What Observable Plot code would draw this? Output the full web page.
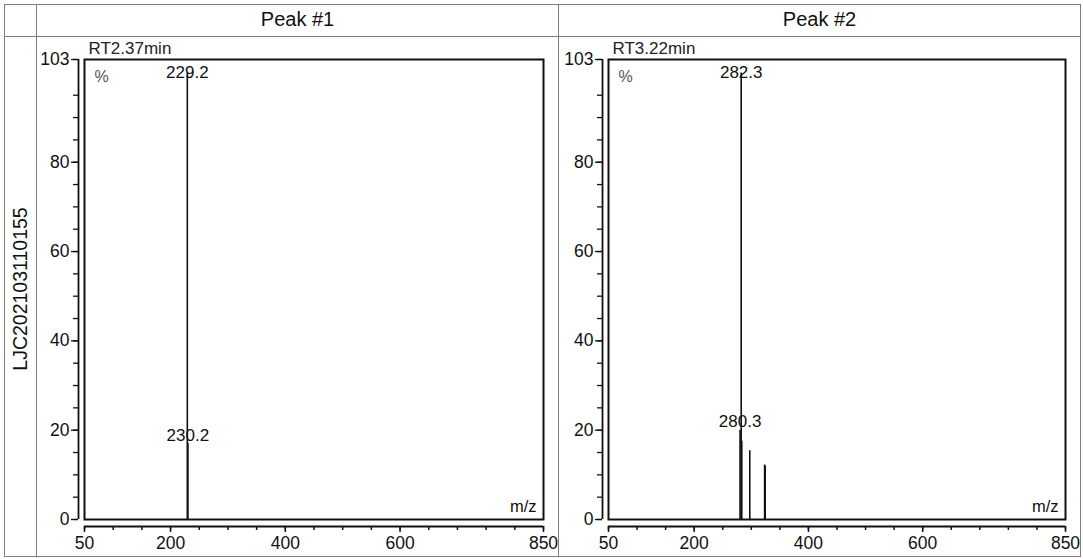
<!DOCTYPE html>
<html>
<head>
<meta charset="utf-8">
<script src="https://cdn.jsdelivr.net/npm/d3@7"></script>
<script src="https://cdn.jsdelivr.net/npm/@observablehq/plot@0.6"></script>
<style>
  body { margin: 0; background: #fff; font-family: "Liberation Sans", Arial, sans-serif; }
  #wrap { position: relative; width: 1083px; height: 559px; overflow: hidden; }
  .ln { position: absolute; background: #7d7d7d; }
  .hdr { position: absolute; top: 5px; height: 31px; line-height: 29px; text-align: center; font-size: 20px; color: #111; }
  .panel { position: absolute; top: 36px; }
  #rowlab { position: absolute; left: 20px; top: 289px; transform: translate(-50%, -50%) rotate(-90deg); font-size: 19.5px; color: #111; white-space: nowrap; }
</style>
</head>
<body>
<div id="wrap"></div>
<script>
// ---- data ----
const panelTitles = ["Peak #1", "Peak #2"];
const retentionTimes = ["RT2.37min", "RT3.22min"];
const sampleId = "LJC202103110155";

const peak1Mz = [229.2, 230.2];
const peak1Intensity = [100, 17];
const peak1Labeled = [229.2, 230.2];

const peak2Mz = [280.3, 282.3, 283.3, 297.3, 323.3, 324.3];
const peak2Intensity = [20, 100, 17.5, 15.4, 12.2, 11.9];
const peak2Labeled = [282.3, 280.3];

const xDomain = [50, 850];
const yDomain = [0, 103];
const xTickLabels = [50, 200, 400, 600, 850];
const xMinorTicks = d3.range(50, 851, 50);
const yTickLabels = [0, 20, 40, 60, 80, 103];
const yMinorTicks = d3.range(0, 96, 5).concat([103]);

// ---- layout ----
const wrap = document.getElementById("wrap");
function line(l, t, w, h) {
  const d = document.createElement("div");
  d.className = "ln";
  Object.assign(d.style, {left: l + "px", top: t + "px", width: w + "px", height: h + "px"});
  wrap.appendChild(d);
}
line(4, 4, 1077, 1);    // top
line(4, 556, 1077, 1);  // bottom
line(4, 4, 1, 553);     // left
line(1080, 4, 1, 553);  // right
line(4, 36, 1077, 1);   // header bottom
line(36, 4, 1, 553);    // label column
line(558, 4, 1, 553);   // between panels

const rl = document.createElement("div");
rl.id = "rowlab";
rl.textContent = sampleId;
wrap.appendChild(rl);

const colLeft = [37, 559];
const colWidth = 521;
const marginLefts = [47, 49];

function spectrum(mzs, ints, labeled, rt, ml) {
  const peaks = mzs.map((mz, k) => ({mz, i: ints[k]}));
  const lab = peaks.filter(p => labeled.includes(p.mz));
  const top = lab.filter(p => p.i >= 99);
  const rest = lab.filter(p => p.i < 99);
  const font = {fontSize: 17, fill: "#111"};
  return Plot.plot({
    width: colWidth,
    height: 520,
    marginLeft: ml,
    marginRight: 15,
    marginTop: 23,
    marginBottom: 37,
    style: {fontFamily: "'Liberation Sans', Arial, sans-serif", background: "transparent", overflow: "visible"},
    x: {domain: xDomain, axis: null},
    y: {domain: yDomain, axis: null},
    marks: [
      Plot.ruleX(peaks, {x: "mz", y1: 0, y2: "i", stroke: "#111", strokeWidth: 1.6}),
      Plot.frame({stroke: "#111", strokeWidth: 2}),
      // x axis (offset below frame)
      Plot.ruleY([0], {dy: 7, stroke: "#111", strokeWidth: 2}),
      Plot.axisX(xMinorTicks, {anchor: "bottom", tickSize: 4, dy: 7, fill: "none", label: null, stroke: "#111", strokeWidth: 1.5}),
      Plot.axisX(xTickLabels, {anchor: "bottom", tickSize: 6, tickPadding: 4, dy: 7, label: null, fontSize: 17.5, color: "#111", strokeWidth: 1.5}),
      // y axis (offset left of frame)
      Plot.ruleX([xDomain[0]], {dx: -6, stroke: "#111", strokeWidth: 1.8}),
      Plot.axisY(yMinorTicks, {anchor: "left", tickSize: 5, dx: -6, fill: "none", label: null, stroke: "#111", strokeWidth: 1.3}),
      Plot.axisY(yTickLabels, {anchor: "left", tickSize: 7, tickPadding: 2, dx: -6, label: null, fontSize: 17.5, color: "#111", strokeWidth: 1.3}),
      // peak labels
      Plot.text(top, {x: "mz", y: yDomain[1], text: d => d.mz.toFixed(1), lineAnchor: "top", dy: 6, ...font}),
      Plot.text(rest, {x: "mz", y: "i", text: d => d.mz.toFixed(1), lineAnchor: "bottom", dy: -3, ...font}),
      // annotations
      Plot.text(["%"], {frameAnchor: "top-left", textAnchor: "start", lineAnchor: "top", dx: 10, dy: 11, fontSize: 16, fill: "#555"}),
      Plot.text(["m/z"], {frameAnchor: "bottom-right", textAnchor: "end", lineAnchor: "bottom", dx: -7, dy: -8, fontSize: 16.5, fill: "#111"}),
      Plot.text([rt], {frameAnchor: "top-left", textAnchor: "start", lineAnchor: "bottom", dx: 4, dy: -6, fontSize: 17, fill: "#222"})
    ]
  });
}

const data = [
  [peak1Mz, peak1Intensity, peak1Labeled],
  [peak2Mz, peak2Intensity, peak2Labeled]
];
data.forEach(([m, v, l], k) => {
  const h = document.createElement("div");
  h.className = "hdr";
  h.style.left = colLeft[k] + "px";
  h.style.width = colWidth + "px";
  h.textContent = panelTitles[k];
  wrap.appendChild(h);
  const p = document.createElement("div");
  p.className = "panel";
  p.style.left = colLeft[k] + "px";
  p.appendChild(spectrum(m, v, l, retentionTimes[k], marginLefts[k]));
  wrap.appendChild(p);
});
</script>
</body>
</html>
